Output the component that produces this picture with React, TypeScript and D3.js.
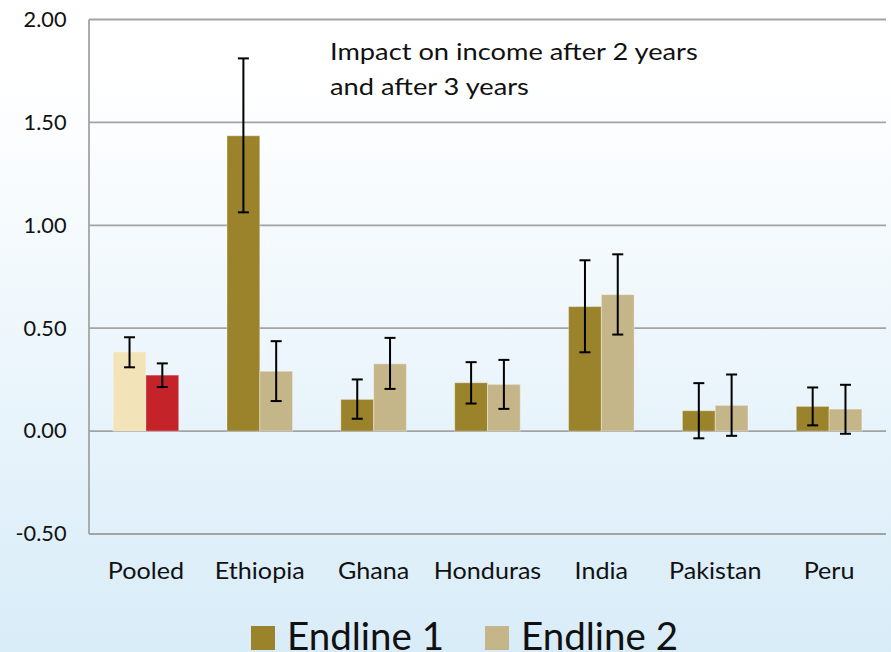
import React from "react";
import * as d3 from "d3";

const categories = ["Pooled", "Ethiopia", "Ghana", "Honduras", "India", "Pakistan", "Peru"];
const seriesNames = ["Endline 1", "Endline 2"];
const endline1 = [0.385, 1.435, 0.154, 0.235, 0.605, 0.099, 0.12];
const endline1Lo = [0.31, 1.063, 0.06, 0.134, 0.383, -0.035, 0.028];
const endline1Hi = [0.456, 1.811, 0.251, 0.335, 0.83, 0.233, 0.212];
const endline2 = [0.272, 0.291, 0.327, 0.227, 0.663, 0.125, 0.107];
const endline2Lo = [0.214, 0.146, 0.205, 0.108, 0.469, -0.023, -0.013];
const endline2Hi = [0.329, 0.437, 0.453, 0.346, 0.859, 0.275, 0.225];
const yTicks = [-0.5, 0, 0.5, 1, 1.5, 2];
const titleLines = ["Impact on income after 2 years", "and after 3 years"];

const W = 891;
const H = 652;
const FONT = "Lato, 'Open Sans', sans-serif";
const colors = ["#9A832B", "#C5B68A"];
const pooledColors = ["#F2E4B8", "#C4232A"];

export default function App() {
  const x = d3.scaleBand<string>().domain(categories).range([89, 886]).padding(0);
  const bw = x.bandwidth();
  const gap = bw * 0.212;
  const xs = d3.scaleBand<string>().domain(seriesNames).range([gap, bw - gap]).padding(0);
  const y = d3.scaleLinear().domain([-0.5, 2]).range([534, 19.5]);
  const y0 = y(0);
  const fmt = (t: number) => d3.format(".2f")(t).replace("\u2212", "-");

  const series = [
    { name: seriesNames[0], v: endline1, lo: endline1Lo, hi: endline1Hi },
    { name: seriesNames[1], v: endline2, lo: endline2Lo, hi: endline2Hi },
  ];

  return (
    <div style={{ position: "fixed", left: 0, top: 0, width: W, height: H }}>
      <svg width={W} height={H} style={{ display: "block" }} fontFamily={FONT}>
        <defs>
          <linearGradient id="bg" x1="0" y1="0" x2="0" y2="1">
            <stop offset="0" stopColor="#FFFFFF" />
            <stop offset="0.12" stopColor="#FFFFFF" />
            <stop offset="1" stopColor="#D8ECF8" />
          </linearGradient>
        </defs>
        <rect x={0} y={0} width={W} height={H} fill="url(#bg)" />
        {yTicks.map((t) => (
          <g key={t}>
            <line x1={89} x2={886} y1={y(t)} y2={y(t)} stroke="#A3A3A3" strokeWidth={1.8} />
            <text
              transform={`translate(66.5,${y(t)}) scale(1.06,1)`}
              dy="0.36em"
              textAnchor="end"
              fontSize={20.5}
              fill="#111"
            >
              {fmt(t)}
            </text>
          </g>
        ))}
        <line x1={89} x2={89} y1={y(2)} y2={y(-0.5)} stroke="#A3A3A3" strokeWidth={1.8} />
        {series.map((s, si) => (
          <g key={s.name}>
            {categories.map((c, i) => {
              const bx = (x(c) as number) + (xs(s.name) as number);
              const val = s.v[i];
              const fill = i === 0 ? pooledColors[si] : colors[si];
              return (
                <rect
                  key={c}
                  x={bx}
                  y={Math.min(y(val), y0)}
                  width={xs.bandwidth()}
                  height={Math.abs(y0 - y(val))}
                  fill={fill}
                  stroke="rgba(255,255,255,0.35)"
                  strokeWidth={1}
                />
              );
            })}
          </g>
        ))}
        {series.map((s) => (
          <g key={s.name + "err"}>
            {categories.map((c, i) => {
              const cx = (x(c) as number) + (xs(s.name) as number) + xs.bandwidth() / 2;
              const t = y(s.hi[i]);
              const b = y(s.lo[i]);
              return (
                <g key={c} stroke="#000" strokeWidth={2}>
                  <line x1={cx} x2={cx} y1={t} y2={b} />
                  <line x1={cx - 5.5} x2={cx + 5.5} y1={t} y2={t} />
                  <line x1={cx - 5.5} x2={cx + 5.5} y1={b} y2={b} />
                </g>
              );
            })}
          </g>
        ))}
        {categories.map((c) => (
          <text
            key={c}
            transform={`translate(${(x(c) as number) + bw / 2},579) scale(1.07,1)`}
            textAnchor="middle"
            fontSize={23.5}
            fill="#111"
          >
            {c}
          </text>
        ))}
        {titleLines.map((l, i) => (
          <text key={l} transform={`translate(330,${60 + i * 35}) scale(1.17,1)`} fontSize={23.3} fill="#111">
            {l}
          </text>
        ))}
        {seriesNames.map((n, i) => (
          <g key={n}>
            <rect x={251 + i * 234} y={626} width={24} height={24} fill={colors[i]} />
            <text x={287 + i * 234} y={650} fontSize={38.5} fill="#111">
              {n}
            </text>
          </g>
        ))}
      </svg>
    </div>
  );
}
